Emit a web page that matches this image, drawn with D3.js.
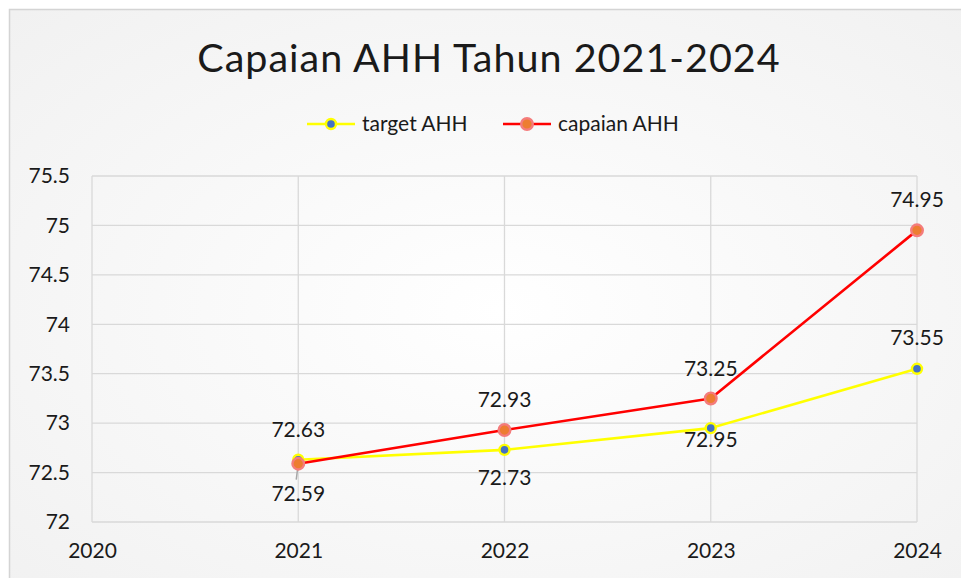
<!DOCTYPE html>
<html>
<head>
<meta charset="utf-8">
<script src="https://cdn.jsdelivr.net/npm/d3@7"></script>
<style>
  body { margin: 0; background: #fff; }
  text { font-family: Lato, "Noto Sans", sans-serif; fill: #1a1a1a; }
</style>
</head>
<body>
<div id="container"></div>
<script>
const width = 961,
  height = 578,
  margin = {top: 176, bottom: 56, left: 92, right: 44},
  fontSize = 21;

// data
const years = [2021, 2022, 2023, 2024];
const targetAHH = [72.63, 72.73, 72.95, 73.55];
const capaianAHH = [72.59, 72.93, 73.25, 74.95];
const xTicks = [2020, 2021, 2022, 2023, 2024];
const yTicks = [72, 72.5, 73, 73.5, 74, 74.5, 75, 75.5];

// label placement (pixels from the point)
const targetLabelDy = [-23, 35, 19, -24];
const capaianLabelDy = [37, -23, -22, -23];

const series = [
  {name: "target AHH", values: targetAHH, dy: targetLabelDy, line: "#ffff00", fill: "#4472c4", stroke: "#ffff00", r: 5},
  {name: "capaian AHH", values: capaianAHH, dy: capaianLabelDy, line: "#ff0000", fill: "#ed7d31", stroke: "#f47c7c", r: 5.8}
];

const svg = d3.select("#container")
  .append("svg")
  .attr("width", width)
  .attr("height", height);

const defs = svg.append("defs");
const grad = defs.append("radialGradient")
  .attr("id", "bg")
  .attr("cx", "50%").attr("cy", "50%").attr("r", "70%");
grad.append("stop").attr("offset", "0%").attr("stop-color", "#ffffff");
grad.append("stop").attr("offset", "100%").attr("stop-color", "#f1f1f1");

svg.append("rect")
  .attr("x", 9.5).attr("y", 9.5)
  .attr("width", 980).attr("height", 600)
  .attr("fill", "url(#bg)")
  .attr("stroke", "#d4d4d4")
  .attr("stroke-width", 1.5);

const xScale = d3.scaleLinear()
  .domain([2020, 2024])
  .range([margin.left, width - margin.right]);

const yScale = d3.scaleLinear()
  .domain([72, 75.5])
  .range([height - margin.bottom, margin.top]);

// gridlines
svg.append("g")
  .attr("class", "ygrid")
  .selectAll("line")
  .data(yTicks)
  .join("line")
  .attr("x1", xScale(2020)).attr("x2", xScale(2024))
  .attr("y1", d => yScale(d)).attr("y2", d => yScale(d))
  .attr("stroke", "#d9d9d9")
  .attr("stroke-width", 1.3);

svg.append("g")
  .attr("class", "xgrid")
  .selectAll("line")
  .data(xTicks)
  .join("line")
  .attr("x1", d => xScale(d)).attr("x2", d => xScale(d))
  .attr("y1", yScale(72)).attr("y2", yScale(75.5))
  .attr("stroke", "#d9d9d9")
  .attr("stroke-width", 1.3);

// axes (labels only)
const yAxis = d3.axisLeft(yScale).tickValues(yTicks).tickSize(0).tickPadding(22)
  .tickFormat(d => d3.format("")(d));
const yAxisGroup = svg.append("g")
  .attr("class", "yAxis")
  .attr("transform", `translate(${margin.left},0)`)
  .call(yAxis);
yAxisGroup.select(".domain").remove();
yAxisGroup.selectAll("text")
  .attr("font-size", fontSize)
  .attr("font-family", "Lato, 'Noto Sans', sans-serif")
  .attr("fill", "#1a1a1a");

const xAxis = d3.axisBottom(xScale).tickValues(xTicks).tickSize(0).tickPadding(21)
  .tickFormat(d3.format("d"));
const xAxisGroup = svg.append("g")
  .attr("class", "xAxis")
  .attr("transform", `translate(0,${height - margin.bottom})`)
  .call(xAxis);
xAxisGroup.select(".domain").remove();
xAxisGroup.selectAll("text")
  .attr("font-size", fontSize)
  .attr("font-family", "Lato, 'Noto Sans', sans-serif")
  .attr("fill", "#1a1a1a");

// leader line for the 2021 capaian label
svg.append("line")
  .attr("x1", xScale(years[0])).attr("y1", yScale(capaianAHH[0]))
  .attr("x2", xScale(years[0]) - 2).attr("y2", yScale(capaianAHH[0]) + 16)
  .attr("stroke", "#a6a6a6")
  .attr("stroke-width", 1.5);

const line = d3.line()
  .x(d => xScale(d[0]))
  .y(d => yScale(d[1]));

series.forEach(s => {
  const pts = years.map((y, i) => [y, s.values[i]]);
  svg.append("path")
    .datum(pts)
    .attr("fill", "none")
    .attr("stroke", s.line)
    .attr("stroke-width", 2.6)
    .attr("stroke-linejoin", "round")
    .attr("d", line);
});

series.forEach(s => {
  const pts = years.map((y, i) => [y, s.values[i]]);
  svg.append("g")
    .selectAll("circle")
    .data(pts)
    .join("circle")
    .attr("cx", d => xScale(d[0]))
    .attr("cy", d => yScale(d[1]))
    .attr("r", s.r)
    .attr("fill", s.fill)
    .attr("stroke", s.stroke)
    .attr("stroke-width", 2.4);
});

// data labels
series.forEach(s => {
  svg.append("g")
    .selectAll("text")
    .data(years.map((y, i) => ({x: y, v: s.values[i], dy: s.dy[i]})))
    .join("text")
    .attr("x", d => xScale(d.x))
    .attr("y", d => yScale(d.v) + d.dy)
    .attr("text-anchor", "middle")
    .attr("font-size", fontSize)
    .text(d => d3.format(".2f")(d.v));
});

// title
svg.append("text")
  .attr("x", 489)
  .attr("y", 72)
  .attr("text-anchor", "middle")
  .attr("font-size", 39.5)
  .attr("letter-spacing", 1)
  .text("Capaian AHH Tahun 2021-2024");

// legend
const legendItems = [
  {s: series[0], x: 307},
  {s: series[1], x: 503}
];
const legend = svg.append("g").attr("class", "legend");
legendItems.forEach(item => {
  const g = legend.append("g").attr("transform", `translate(${item.x},124)`);
  g.append("line")
    .attr("x1", 0).attr("x2", 48)
    .attr("stroke", item.s.line)
    .attr("stroke-width", 2.6);
  g.append("circle")
    .attr("cx", 24).attr("r", item.s.r)
    .attr("fill", item.s.fill)
    .attr("stroke", item.s.stroke)
    .attr("stroke-width", 2.4);
  g.append("text")
    .attr("x", 55).attr("y", 7)
    .attr("font-size", fontSize)
    .text(item.s.name);
});
</script>
</body>
</html>
